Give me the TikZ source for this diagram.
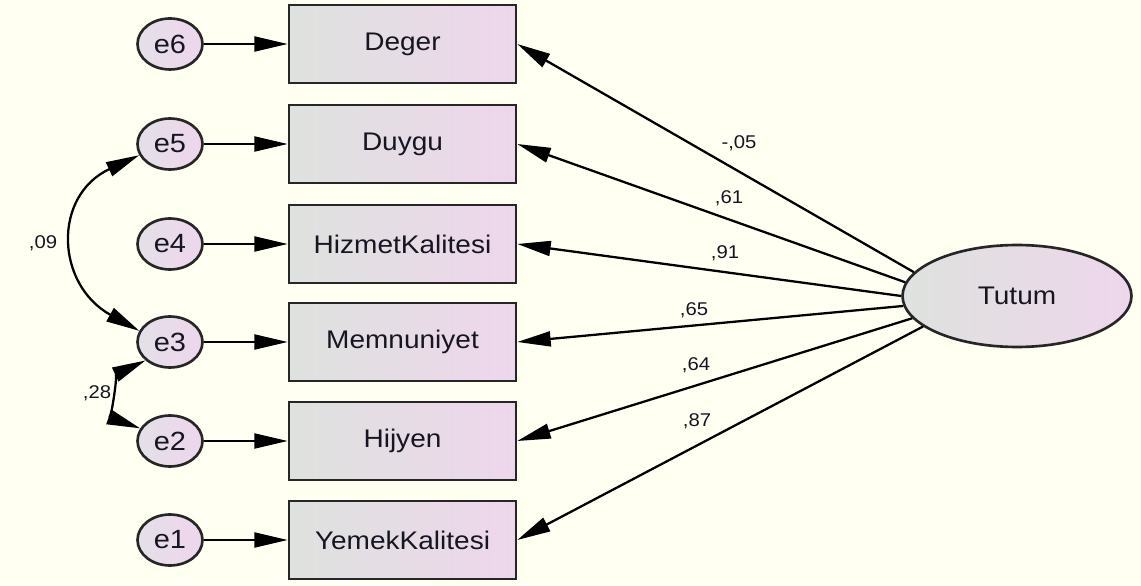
\documentclass[tikz,border=0pt]{standalone}
\usepackage{fontspec}
\setmainfont{Liberation Sans}[FakeStretch=1.1]
\usetikzlibrary{
    arrows.meta,
    shapes.geometric,
    positioning
}

% 色
\definecolor{bgcream}{RGB}{255,255,242}
\definecolor{boxleft}{RGB}{222,226,222}
\definecolor{boxright}{RGB}{238,214,236}
\definecolor{errleft}{RGB}{228,224,232}
\definecolor{errright}{RGB}{238,214,236}
\definecolor{txtdark}{RGB}{22,22,34}

\tikzset{
  every path/.style={
    line width=1.3pt
  },
  obsvar/.style={
    draw=black!85,
    line width=1.5pt,
    rectangle,
    minimum width=4.54cm,
    minimum height=1.56cm,
    left color=boxleft,
    right color=boxright,
    text=txtdark,
    font=\fontsize{14.5}{16}\selectfont
  },
  errvar/.style={
    draw=black!85,
    line width=1.5pt,
    ellipse,
    inner sep=0pt,
    minimum width=1.3cm,
    minimum height=1.02cm,
    left color=errleft,
    right color=errright,
    text=txtdark,
    font=\fontsize{15}{17}\selectfont
  },
  latvar/.style={
    draw=black!85,
    line width=1.5pt,
    ellipse,
    minimum width=4.58cm,
    minimum height=2.04cm,
    left color=boxleft,
    right color=boxright,
    text=txtdark,
    font=\fontsize{14.5}{16}\selectfont
  },
  coef/.style={
    inner sep=1pt,
    text=txtdark,
    font=\fontsize{10.5}{12}\selectfont
  }
}

\begin{document}
\begin{tikzpicture}[x=0.02cm,y=0.02cm,>={Triangle[length=19pt,width=8.5pt]}]

    % 背景
    \fill[bgcream] (0,0) rectangle (1141,585);
    \useasboundingbox (0,0) rectangle (1141,585);

    % 観測変数と誤差
    \foreach \nd/\lab/\err/\yy in {
        deger/Deger/e6/541,
        duygu/Duygu/e5/441,
        hizmet/HizmetKalitesi/e4/341,
        memnun/Memnuniyet/e3/243,
        hijyen/Hijyen/e2/144,
        yemek/YemekKalitesi/e1/45} {
        \node[obsvar] (\nd) at (402.5,\yy) {\lab};
        \node[errvar] (\err) at (170,\yy) {\err};
        \draw[->] (\err) -- (\nd);
    }

    % 潜在変数
    \node[latvar] (tutum) at (1017,289) {Tutum};

    % 因子負荷
    \foreach \nd/\ang in {deger/167, duygu/173, hizmet/180,
                          memnun/185, hijyen/192, yemek/198} {
        \draw[->] (tutum.\ang) -- (\nd.east);
    }

    % 係数
    \node[coef] (kdeger)  at (739,442) {-,05};
    \node[coef] (kduygu)  at (729,387) {,61};
    \node[coef] (khizmet) at (725,332) {,91};
    \node[coef] (kmemnun) at (694,275) {,65};
    \node[coef] (khijyen) at (696,220) {,64};
    \node[coef] (kyemek)  at (697,164) {,87};

    % 共分散
    \draw[<->] (e5.200) to[out=205,in=151,looseness=1.4] (e3.160);
    \draw[<->] (e3.217) to[out=205,in=160,looseness=1.15] (e2.157);
    \node[coef] (c53) at (43,342) {,09};
    \node[coef] (c32) at (97,192) {,28};

\end{tikzpicture}
\end{document}
